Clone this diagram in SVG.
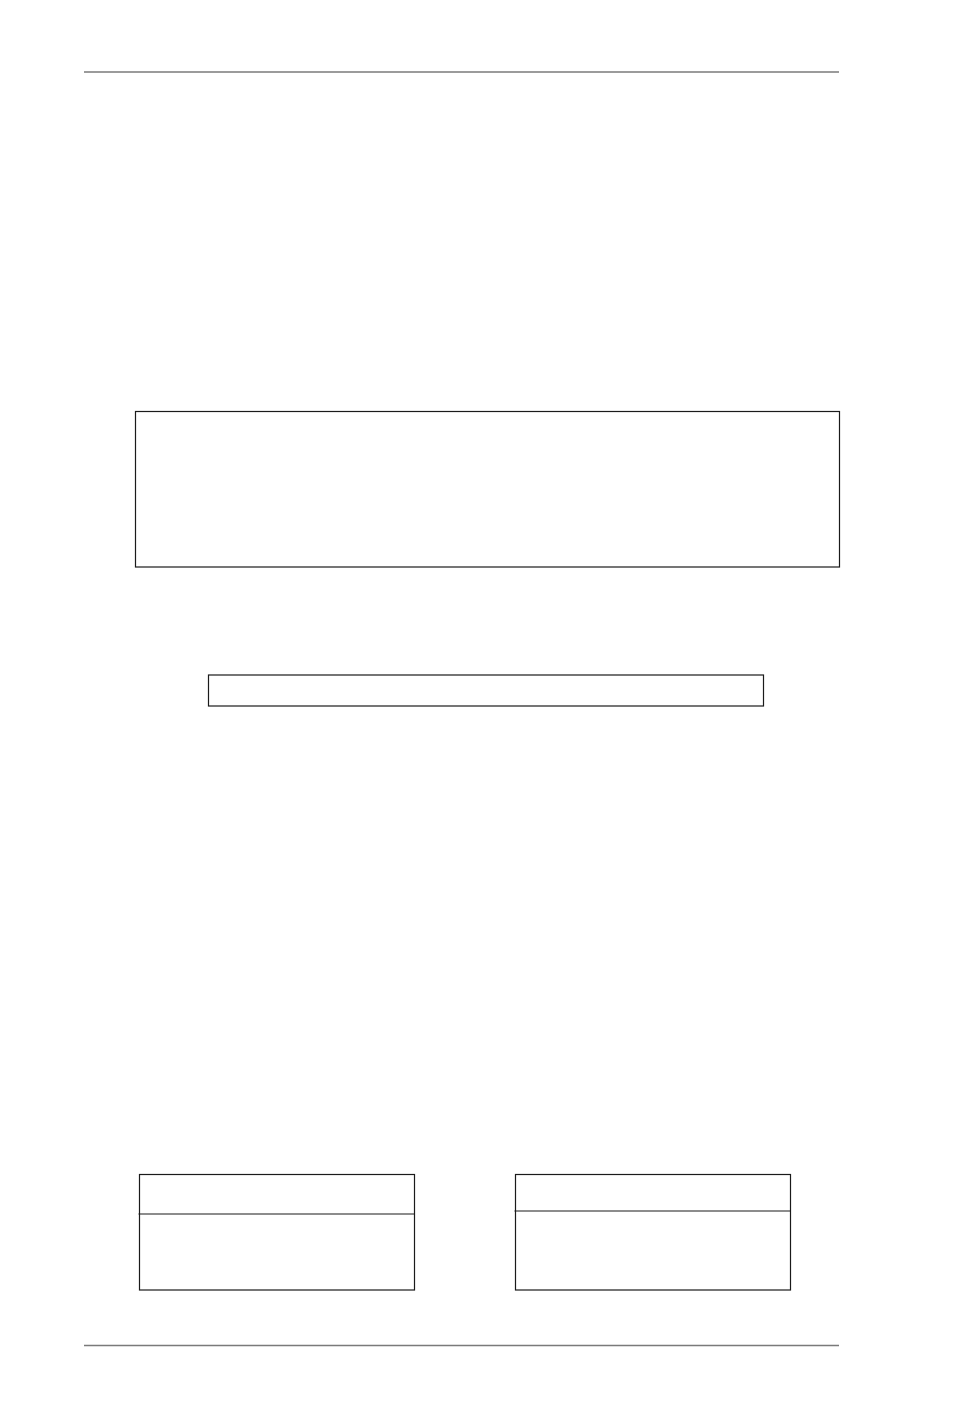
<svg xmlns="http://www.w3.org/2000/svg" width="969" height="1414" viewBox="0 0 969 1414">
<style>
.rule{stroke:#7a7a7a;stroke-width:1.5;fill:none}
.box{fill:#ffffff;stroke:#1a1a1a;stroke-width:1.2}
.div{stroke:#1a1a1a;stroke-width:1.2}
</style>
<rect x="0" y="0" width="969" height="1414" fill="#ffffff"/>
<g id="page-rules">
<line class="rule" x1="84" y1="72" x2="839" y2="72"/>
<line class="rule" x1="84" y1="1345.5" x2="839" y2="1345.5"/>
</g>
<g id="connectors"></g>
<g id="node-large">
<rect class="box" x="135.5" y="411.5" width="704" height="155.5"/>
</g>
<g id="node-bar">
<rect class="box" x="208.5" y="675" width="555" height="31"/>
</g>
<g id="node-left">
<rect class="box" x="139.5" y="1174.5" width="275" height="115.5"/>
<line class="div" x1="138.5" y1="1214" x2="414.5" y2="1214"/>
</g>
<g id="node-right">
<rect class="box" x="515.5" y="1174.5" width="275" height="115.5"/>
<line class="div" x1="514.5" y1="1211" x2="790.5" y2="1211"/>
</g>
</svg>
